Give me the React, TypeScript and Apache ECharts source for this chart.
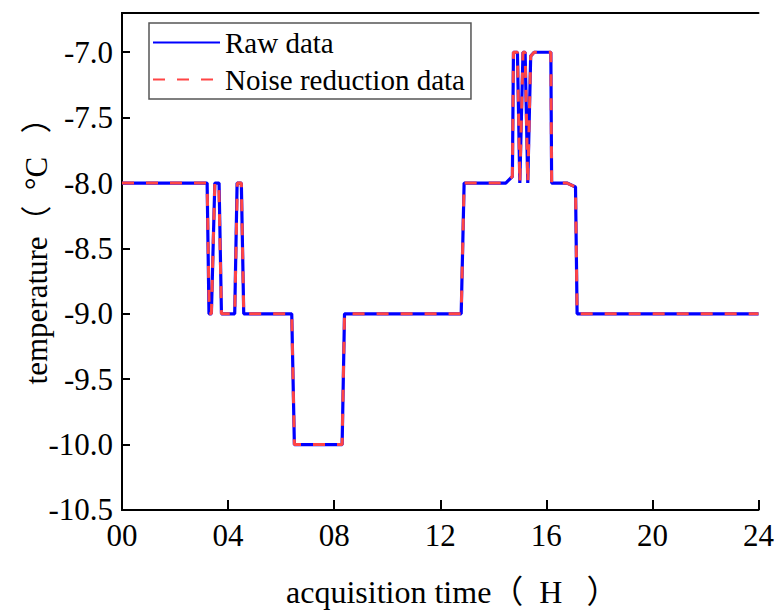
import React, { useEffect, useRef } from "react";
import * as echarts from "echarts";

const seriesNames = ["Raw data", "Noise reduction data"];

const rawData: [number, number][] = [
  [0, -8], [3.21, -8], [3.28, -9], [3.37, -9], [3.5, -8], [3.66, -8], [3.75, -9],
  [4.25, -9], [4.34, -8], [4.5, -8], [4.59, -9], [6.4, -9], [6.5, -10], [8.3, -10],
  [8.39, -9], [12.79, -9], [12.9, -8], [14.47, -8], [14.72, -7.95], [14.76, -7],
  [14.91, -7], [15.0, -8], [15.12, -7], [15.2, -7], [15.3, -8], [15.41, -7.03],
  [15.54, -7], [16.17, -7], [16.2, -8], [16.78, -8], [17.1, -8.03], [17.16, -9], [24, -9],
];

const noiseReductionData: [number, number][] = [
  [0, -8], [3.21, -8], [3.29, -9], [3.37, -9], [3.5, -8], [3.65, -8], [3.75, -9],
  [4.25, -9], [4.35, -8], [4.5, -8], [4.59, -9], [6.4, -9], [6.5, -10], [8.3, -10],
  [8.39, -9], [12.79, -9], [12.9, -8], [14.47, -8], [14.72, -7.95], [14.76, -7],
  [14.91, -7], [15.0, -8], [15.12, -7], [15.2, -7], [15.3, -8], [15.41, -7.03],
  [15.54, -7], [16.17, -7], [16.2, -8], [16.78, -8], [17.1, -8.03], [17.16, -9], [24, -9],
];

const xTickLabels = ["00", "04", "08", "12", "16", "20", "24"];
const yMin = -10.5;
const yMax = -6.7;
const yInterval = 0.5;
const xMin = 0;
const xMax = 24;
const xInterval = 4;

const xAxisTitle = "acquisition time（\u2002H \u2002）";
const yAxisTitle = "temperature（\u2002°C \u2002）";

const FONT = "'Liberation Serif', 'Times New Roman', 'Noto Sans CJK SC', serif";

export default function App() {
  const ref = useRef<HTMLDivElement>(null);
  useEffect(() => {
    if (!ref.current) return;
    const chart = echarts.init(ref.current, undefined, { renderer: "svg" });
    const axisLine = { show: true, lineStyle: { color: "#000", width: 2 } };
    chart.setOption({
      animation: false,
      backgroundColor: "#fff",
      grid: { left: 122, right: 17, top: 13, bottom: 90, containLabel: false },
      legend: {
        orient: "vertical",
        left: 149,
        top: 23,
        data: seriesNames,
        itemWidth: 67,
        itemHeight: 14,
        itemGap: 8,
        padding: [5, 6, 5, 3],
        borderColor: "#555",
        borderWidth: 1.5,
        itemStyle: { opacity: 0 },
        textStyle: { fontFamily: FONT, fontSize: 29, color: "#000" },
      },
      xAxis: [
        {
          type: "value",
          min: xMin,
          max: xMax,
          interval: xInterval,
          name: xAxisTitle,
          nameLocation: "middle",
          nameGap: 66,
          nameMoveOverlap: false,
          nameTextStyle: { fontFamily: FONT, fontSize: 32, color: "#000", padding: [0, 0, 0, 24] },
          axisLine,
          axisTick: { show: true, inside: true, length: 10, lineStyle: { color: "#000", width: 2 } },
          axisLabel: {
            fontFamily: FONT,
            fontSize: 31,
            color: "#000",
            margin: 10,
            formatter: (v: number) => xTickLabels[Math.round((v - xMin) / xInterval)] ?? "",
          },
          splitLine: { show: false },
        },
        {
          type: "value",
          position: "top",
          min: xMin,
          max: xMax,
          axisLine,
          axisTick: { show: false },
          axisLabel: { show: false },
          splitLine: { show: false },
        },
      ],
      yAxis: [
        {
          type: "value",
          min: yMin,
          max: yMax,
          interval: yInterval,
          name: yAxisTitle,
          nameLocation: "middle",
          nameGap: 70,
          nameMoveOverlap: false,
          nameRotate: 90,
          nameTextStyle: { fontFamily: FONT, fontSize: 31, color: "#000", padding: [0, 0, 0, 36] },
          axisLine,
          axisTick: { show: true, inside: true, length: 8, lineStyle: { color: "#000", width: 2 } },
          axisLabel: {
            fontFamily: FONT,
            fontSize: 31,
            color: "#000",
            margin: 9,
            showMaxLabel: false,
            formatter: (v: number) => (Math.abs(v - yMax) < 1e-6 ? "" : v.toFixed(1)),
          },
          splitLine: { show: false },
        },
        {
          type: "value",
          position: "right",
          min: yMin,
          max: yMax,
          axisLine,
          axisTick: { show: false },
          axisLabel: { show: false },
          splitLine: { show: false },
        },
      ],
      series: [
        {
          name: seriesNames[0],
          type: "line",
          data: rawData,
          symbol: "none",
          lineStyle: { color: "#0000ff", width: 3.2 },
          itemStyle: { color: "#0000ff" },
          z: 2,
        },
        {
          name: seriesNames[1],
          type: "line",
          data: noiseReductionData,
          symbol: "none",
          lineStyle: { color: "#ff4545", width: 3, type: [12, 12] },
          itemStyle: { color: "#ff4545" },
          z: 3,
        },
      ],
    });
    return () => chart.dispose();
  }, []);
  return (
    <div
      ref={ref}
      style={{ position: "absolute", left: 0, top: 0, width: 777, height: 613 }}
    />
  );
}
